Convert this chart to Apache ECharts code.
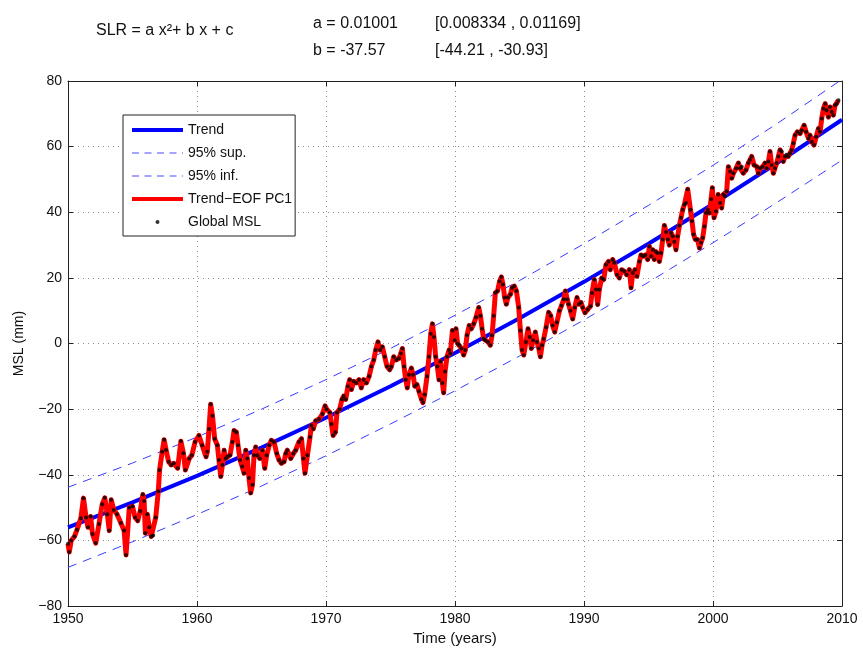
<!DOCTYPE html>
<html>
<head>
<meta charset="utf-8">
<script src="https://cdn.jsdelivr.net/npm/echarts@6/dist/echarts.min.js"></script>
<style>html,body{margin:0;padding:0;background:#fff}#c{width:863px;height:651px}</style>
</head>
<body>
<div id="c"></div>
<script>
// ---- data ----
var xTicks = [1950, 1960, 1970, 1980, 1990, 2000, 2010];
var yTicks = [-80, -60, -40, -20, 0, 20, 40, 60, 80];

// fitted trend and its 95% bands, read every 5 years
var trendYears = [1950, 1955, 1960, 1965, 1970, 1975, 1980, 1985, 1990, 1995, 2000, 2005, 2010];
var trendVals  = [-56, -48.4, -40.3, -31.7, -22.6, -13.0, -2.9, 7.7, 18.8, 30.4, 42.5, 55.1, 68.2];
var supVals    = [-43.8, -36.4, -28.5, -20.0, -11.0, -1.5, 8.6, 19.2, 30.4, 42.1, 54.3, 67.1, 80.5];
var infVals    = [-68.2, -60.4, -52.1, -43.4, -34.2, -24.5, -14.4, -3.8, 7.2, 18.7, 30.7, 43.1, 55.9];

// global mean sea level, [year, mm], one small array per decade
var msl1950s = [[1950.0,-61],[1950.1,-63.5],[1950.25,-60],[1950.5,-58.8],[1950.7,-56.7],[1951.0,-53.2],[1951.2,-47.1],[1951.4,-53],[1951.55,-56],[1951.75,-52.7],[1951.9,-58],[1952.15,-60.8],[1952.4,-55],[1952.65,-49],[1952.85,-47],[1953.05,-52],[1953.2,-57],[1953.35,-47.6],[1953.55,-50.7],[1953.8,-52],[1954.1,-54.7],[1954.35,-57],[1954.5,-64.4],[1954.75,-50],[1955.0,-49.6],[1955.2,-53],[1955.4,-54],[1955.6,-51],[1955.8,-46],[1955.9,-48],[1956.0,-57.8],[1956.15,-52],[1956.3,-56],[1956.45,-58.8],[1956.6,-58.5],[1956.8,-53],[1957.0,-45],[1957.1,-38.5],[1957.3,-33],[1957.45,-29.3],[1957.6,-32.4],[1957.8,-36],[1958.0,-37],[1958.2,-36.5],[1958.5,-38],[1958.75,-29.8],[1958.95,-33.4],[1959.1,-38.5],[1959.4,-35],[1959.6,-34],[1959.85,-30]];
var msl1960s = [[1960.15,-28],[1960.4,-31],[1960.7,-34.5],[1960.8,-33],[1960.93,-26],[1961.06,-18.5],[1961.2,-22],[1961.37,-29],[1961.58,-31],[1961.7,-35.5],[1961.84,-40.5],[1961.97,-37],[1962.1,-32.5],[1962.23,-35],[1962.35,-34.5],[1962.56,-34],[1962.74,-30],[1962.87,-26.5],[1963.05,-27],[1963.18,-31],[1963.34,-35.5],[1963.5,-37.5],[1963.65,-39.5],[1963.78,-32.5],[1963.9,-35],[1964.03,-41],[1964.16,-45.5],[1964.3,-43],[1964.42,-34],[1964.55,-31.5],[1964.68,-34],[1964.86,-35],[1965.07,-32.5],[1965.25,-38],[1965.4,-34],[1965.6,-31],[1965.76,-29.5],[1965.97,-30],[1966.18,-33.5],[1966.36,-35.5],[1966.54,-36.5],[1966.75,-36],[1966.88,-33.5],[1967.0,-32.5],[1967.27,-35],[1967.47,-33.5],[1967.65,-32.5],[1967.9,-30],[1968.1,-29],[1968.25,-35],[1968.37,-39.5],[1968.56,-34],[1968.76,-28.5],[1968.87,-25],[1969.02,-26],[1969.2,-23.5],[1969.46,-23],[1969.72,-21.5],[1969.93,-19]];
var msl1970s = [[1970.05,-20],[1970.3,-21],[1970.42,-24.5],[1970.55,-28],[1970.73,-27],[1970.85,-21],[1971.06,-20],[1971.24,-17],[1971.37,-16],[1971.53,-17],[1971.7,-13],[1971.84,-11],[1971.97,-14],[1972.15,-11.5],[1972.35,-12],[1972.56,-11],[1972.74,-13.5],[1972.92,-11],[1973.13,-12],[1973.34,-10],[1973.52,-7],[1973.7,-5],[1973.85,-2],[1974.03,0.5],[1974.2,-2],[1974.37,-1],[1974.55,-4],[1974.73,-7],[1974.93,-8],[1975.07,-7],[1975.25,-4],[1975.45,-5],[1975.66,-4.5],[1975.8,-3],[1975.92,-1.5],[1976.05,-7],[1976.18,-11],[1976.3,-13.5],[1976.43,-9.5],[1976.62,-7.5],[1976.75,-9.5],[1976.88,-13],[1977.05,-12.5],[1977.2,-14.5],[1977.4,-17],[1977.52,-18],[1977.65,-15.5],[1977.83,-10],[1977.98,-4],[1978.12,3],[1978.25,6],[1978.37,2],[1978.5,-4],[1978.63,-7],[1978.76,-11],[1978.87,-5.5],[1979.02,-12],[1979.12,-15],[1979.23,-8.5],[1979.38,-4],[1979.54,-2],[1979.64,-3],[1979.8,4],[1979.98,1]];
var msl1980s = [[1980.08,4.5],[1980.2,0],[1980.34,-0.5],[1980.5,-1.5],[1980.67,-3.5],[1980.8,-2],[1980.93,2.5],[1981.1,5.5],[1981.27,4.5],[1981.45,6],[1981.63,8],[1981.84,11],[1981.97,8.5],[1982.1,4.5],[1982.22,1.5],[1982.35,1],[1982.56,0.5],[1982.74,-0.5],[1982.87,2.5],[1983.0,8.5],[1983.13,15.5],[1983.3,16],[1983.46,19],[1983.6,20.3],[1983.72,18],[1983.85,14],[1983.98,12],[1984.1,14],[1984.3,15],[1984.42,17],[1984.6,17.5],[1984.76,16],[1984.94,11],[1985.07,4],[1985.2,-2],[1985.33,-3.5],[1985.5,0.5],[1985.66,4.5],[1985.8,2],[1985.92,-1.5],[1986.05,1],[1986.23,3.5],[1986.36,0.5],[1986.5,-1.5],[1986.62,-4],[1986.75,-0.5],[1986.88,1.5],[1987.06,5],[1987.26,9.5],[1987.42,8.5],[1987.57,5.5],[1987.73,3.5],[1987.9,6.5],[1988.1,10],[1988.25,11.5],[1988.43,13.5],[1988.56,16],[1988.7,13.5],[1988.8,12],[1988.95,10],[1989.12,7.5],[1989.28,11],[1989.46,14],[1989.6,12],[1989.77,12.5]];
var msl1990s = [[1989.9,11],[1990.08,9.4],[1990.29,10.4],[1990.5,11.4],[1990.62,15.4],[1990.8,19.5],[1990.93,16.5],[1991.06,11.9],[1991.19,16.5],[1991.37,20],[1991.53,19.5],[1991.7,24],[1991.9,25],[1992.04,22.5],[1992.22,25.6],[1992.35,24.6],[1992.56,21],[1992.74,20],[1992.92,22.5],[1993.13,22],[1993.3,21],[1993.52,22.5],[1993.65,17],[1993.78,21.5],[1993.95,22.5],[1994.1,20.5],[1994.3,25],[1994.42,27],[1994.6,26.6],[1994.76,27],[1994.94,25.6],[1995.07,29.6],[1995.2,26.6],[1995.33,28.6],[1995.45,25.6],[1995.58,28],[1995.7,27.6],[1995.84,25],[1995.97,27.6],[1996.1,31.7],[1996.23,36],[1996.36,34],[1996.5,31.7],[1996.62,30],[1996.75,33.7],[1996.88,32.7],[1997.0,31],[1997.13,28.6],[1997.26,32.7],[1997.4,36],[1997.52,38.3],[1997.65,40.8],[1997.78,42.3],[1997.9,42.8],[1998.04,47],[1998.25,40.8],[1998.37,37.3],[1998.5,33.2],[1998.63,31.7],[1998.8,31.7],[1998.95,29.1],[1999.07,30.7],[1999.2,32.2],[1999.33,35.7],[1999.46,39.8],[1999.6,40.8],[1999.72,39.8],[1999.85,44],[1999.95,47.5]];
var msl2000s = [[2000.08,38.3],[2000.23,40.3],[2000.4,45.4],[2000.55,42.8],[2000.67,41.3],[2000.8,45.4],[2000.93,44.9],[2001.06,46.4],[2001.19,53.9],[2001.32,52.4],[2001.45,50.4],[2001.58,51.9],[2001.8,53.4],[2001.97,55],[2002.1,53.4],[2002.23,53.9],[2002.35,51.9],[2002.56,52.9],[2002.74,55],[2002.87,56],[2003.0,57],[2003.18,54.4],[2003.4,53.9],[2003.52,51.9],[2003.65,53.4],[2003.85,53.9],[2004.03,55],[2004.16,53.4],[2004.3,55.5],[2004.42,58.5],[2004.55,54.4],[2004.68,51.9],[2004.8,53.4],[2004.94,55],[2005.07,57],[2005.2,59],[2005.33,58.5],[2005.45,55.5],[2005.58,57],[2005.7,57.5],[2005.84,57],[2005.97,58],[2006.1,59],[2006.23,61],[2006.36,63.5],[2006.54,64.5],[2006.75,64],[2006.88,65],[2007.06,66.5],[2007.22,64.5],[2007.4,62.5],[2007.52,63.5],[2007.65,61.5],[2007.83,60.5],[2008.0,63],[2008.17,65.5],[2008.3,64.5],[2008.43,68.6],[2008.56,71.6],[2008.7,73.1],[2008.8,71.1],[2008.95,69],[2009.07,72.1],[2009.2,70.6],[2009.33,69.6],[2009.46,72.6],[2009.6,73.1],[2009.72,74.1]];

var seriesNames = ['Trend', '95% sup.', '95% inf.', 'Trend\u2212EOF PC1', 'Global MSL'];
// ---------------------------------------------

var msl = [].concat(msl1950s, msl1960s, msl1970s, msl1980s, msl1990s, msl2000s);
function pairs(xs, ys) { return xs.map(function (x, i) { return [x, ys[i]]; }); }

var FONT = '"Liberation Sans", Arial, sans-serif';
function svgIcon(inner) {
  return 'image://data:image/svg+xml;utf8,' + encodeURIComponent(
    '<svg xmlns="http://www.w3.org/2000/svg" width="51" height="14">' + inner + '</svg>');
}
var iconTrend = svgIcon('<line x1="0" y1="7" x2="51" y2="7" stroke="#0000ff" stroke-width="4"/>');
var iconBand  = svgIcon('<line x1="0" y1="7" x2="51" y2="7" stroke="#4a4aff" stroke-width="1.2" stroke-dasharray="7,5.5"/>');
var iconRed   = svgIcon('<line x1="0" y1="7" x2="51" y2="7" stroke="#ff0000" stroke-width="4"/>');
var iconDot   = svgIcon('<circle cx="25.5" cy="7" r="2" fill="#000"/>');

function minus(v) { return String(v).replace('-', '\u2212'); }

var frameAxis = { onZero: false, lineStyle: { color: '#222', width: 1 } };
var tick = { show: true, inside: true, length: 5, lineStyle: { color: '#222' } };
var grid = { show: true, lineStyle: { color: '#8a8a8a', type: [1, 4], width: 1 } };
var titleStyle = { fontSize: 16, fontWeight: 'normal', color: '#111', fontFamily: FONT };

var chart = echarts.init(document.getElementById('c'), null, { renderer: 'canvas' });
chart.setOption({
  animation: false,
  backgroundColor: '#fff',
  textStyle: { fontFamily: FONT },
  title: [
    { text: 'SLR = a x\u00b2+ b x + c', left: 91, top: 18, textStyle: titleStyle },
    { text: 'a = 0.01001', left: 308, top: 11, textStyle: titleStyle },
    { text: '[0.008334 , 0.01169]', left: 430, top: 11, textStyle: titleStyle },
    { text: 'b = -37.57', left: 308, top: 38, textStyle: titleStyle },
    { text: '[-44.21 , -30.93]', left: 430, top: 38, textStyle: titleStyle }
  ],
  grid: { left: 68, right: 21, top: 81, bottom: 43, containLabel: false },
  legend: {
    orient: 'vertical', left: 123, top: 115,
    itemWidth: 51, itemHeight: 14, itemGap: 9,
    padding: [8, 3, 7, 9],
    backgroundColor: '#fff', borderColor: '#222', borderWidth: 1,
    textStyle: { fontSize: 14, color: '#111', fontFamily: FONT },
    data: [
      { name: seriesNames[0], icon: iconTrend },
      { name: seriesNames[1], icon: iconBand },
      { name: seriesNames[2], icon: iconBand },
      { name: seriesNames[3], icon: iconRed },
      { name: seriesNames[4], icon: iconDot }
    ]
  },
  xAxis: [
    { type: 'value', min: 1950, max: 2010, interval: 10, position: 'bottom',
      name: 'Time (years)', nameLocation: 'middle', nameGap: 24,
      nameTextStyle: { fontSize: 15, color: '#111', fontFamily: FONT },
      axisLine: frameAxis, axisTick: tick, splitLine: grid,
      axisLabel: { fontSize: 14, color: '#111', margin: 6, fontFamily: FONT,
        formatter: function (v) { return String(v); } } },
    { type: 'value', min: 1950, max: 2010, interval: 10, position: 'top',
      axisLine: frameAxis, axisTick: tick, splitLine: { show: false }, axisLabel: { show: false } }
  ],
  yAxis: [
    { type: 'value', min: -80, max: 80, interval: 20, position: 'left',
      name: 'MSL (mm)', nameLocation: 'middle', nameGap: 42, nameRotate: 90,
      nameTextStyle: { fontSize: 14, color: '#111', fontFamily: FONT },
      axisLine: frameAxis, axisTick: tick, splitLine: grid,
      axisLabel: { fontSize: 14, color: '#111', margin: 6, fontFamily: FONT, formatter: minus } },
    { type: 'value', min: -80, max: 80, interval: 20, position: 'right',
      axisLine: frameAxis, axisTick: tick, splitLine: { show: false }, axisLabel: { show: false } }
  ],
  series: [
    { name: seriesNames[0], type: 'line', data: pairs(trendYears, trendVals), showSymbol: false, symbol: 'none',
      lineStyle: { color: '#0000ff', width: 4 }, itemStyle: { color: '#0000ff' }, z: 3 },
    { name: seriesNames[1], type: 'line', data: pairs(trendYears, supVals), showSymbol: false, symbol: 'none',
      lineStyle: { color: '#3a3aff', width: 1, type: [9, 7] }, itemStyle: { color: '#3a3aff' }, z: 3 },
    { name: seriesNames[2], type: 'line', data: pairs(trendYears, infVals), showSymbol: false, symbol: 'none',
      lineStyle: { color: '#3a3aff', width: 1, type: [9, 7] }, itemStyle: { color: '#3a3aff' }, z: 3 },
    { name: seriesNames[3], type: 'line', data: msl, showSymbol: false, symbol: 'none',
      lineStyle: { color: '#ff0000', width: 5, join: 'round' }, itemStyle: { color: '#ff0000' }, z: 4 },
    { name: seriesNames[4], type: 'scatter', data: msl, symbol: 'circle', symbolSize: 4,
      itemStyle: { color: '#000' }, z: 5 }
  ]
});
</script>
</body>
</html>
